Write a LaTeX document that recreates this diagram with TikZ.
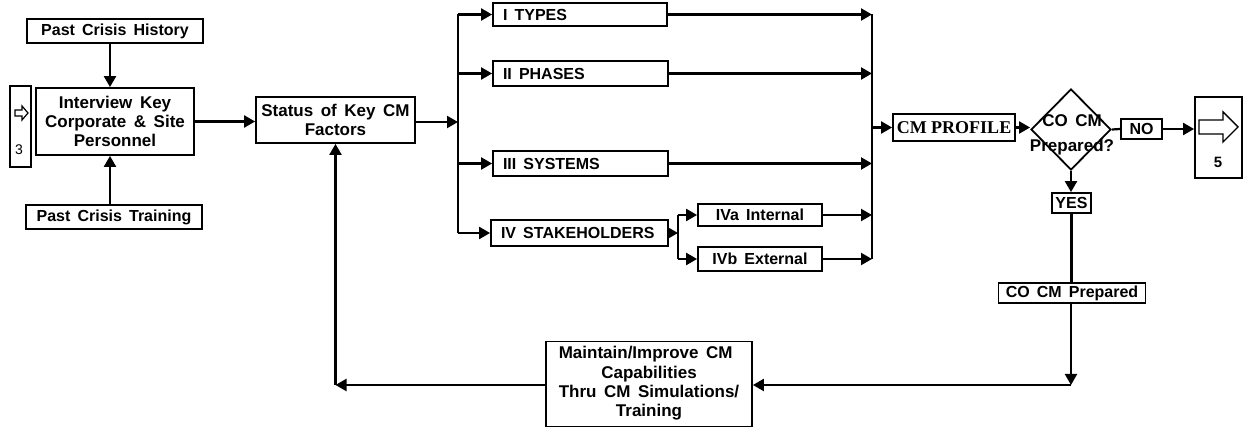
\documentclass[tikz,border=0pt]{standalone}
\usepackage{fontspec}
\setmainfont[WordSpace=1.6]{Liberation Sans}
\newfontfamily\serifbf{Liberation Serif}
\usetikzlibrary{shapes.geometric,arrows.meta}
\begin{document}
\begin{tikzpicture}[x=0.5pt,y=-0.5pt,
  box/.style={draw,line width=0.9pt,inner sep=0pt,font=\bfseries\fontsize{8}{9.5}\selectfont},
  lbox/.style={box,inner xsep=5pt,anchor=center},
  big/.style={font=\bfseries\fontsize{8.5}{9.7}\selectfont},
  arr/.style={line width=1.1pt,-{Triangle[length=5.5pt,width=6pt]}},
  ln/.style={line width=1.1pt}]
\useasboundingbox (0,0) rectangle (1244,427);

% left column
\node[box,minimum width=88pt,minimum height=12pt] (hist) at (115,31) {Past Crisis History};
\node[box,big,minimum width=79pt,minimum height=33.5pt,align=center] (intv) at (115,121.5) {Interview Key\\Corporate \& Site\\Personnel};
\node[box,minimum width=10.5pt,minimum height=40.5pt] (conn3) at (20.5,126.5) {};
\draw[line width=0.6pt] (15,110) -- (22,110) -- (22,106) -- (28,113) -- (22,120) -- (22,116) -- (15,116) -- cycle;
\node[font=\fontsize{7}{8}\selectfont,inner sep=0pt] (c3num) at (19,150) {3};
\node[box,minimum width=88pt,minimum height=12pt] (train) at (114,217) {Past Crisis Training};
\node[box,big,minimum width=79.5pt,minimum height=23pt,align=center] (status) at (335.5,120) {Status of Key CM\\Factors};

% factors
\node[lbox,minimum height=11.5pt] (types) at (580,14.5) {\makebox[77pt][l]{I TYPES}};
\node[lbox,minimum height=12.5pt] (phases) at (580.5,73.5) {\makebox[77.5pt][l]{II PHASES}};
\node[lbox,minimum height=12.5pt] (systems) at (580.5,163.5) {\makebox[77.5pt][l]{III SYSTEMS}};
\node[lbox,minimum height=13pt] (stake) at (579.5,233) {\makebox[78.5pt][l]{IV STAKEHOLDERS}};
\node[box,minimum width=62pt,minimum height=11pt] (iva) at (760,215) {IVa Internal};
\node[box,minimum width=62pt,minimum height=12pt] (ivb) at (760,259) {IVb External};

% right part
\node[box,minimum width=61pt,minimum height=13.5pt,font=\serifbf\bfseries\fontsize{9}{10}\selectfont] (profile) at (954,127.5) {CM PROFILE};
\node[diamond,draw,line width=0.9pt,minimum width=40pt,minimum height=40.5pt,inner sep=0pt] (dia) at (1071,129.5) {};
\node[font=\bfseries\fontsize{8.5}{12.5}\selectfont,align=center,inner sep=0pt] (diat) at (1072,134.5) {CO CM\\Prepared?};
\node[box,minimum width=20.5pt,minimum height=10pt] (no) at (1141.5,129) {NO};
\node[box,minimum width=23.5pt,minimum height=40.5pt] (c5) at (1218.5,137.5) {};
\draw[line width=0.7pt] (1199,120) -- (1223,120) -- (1223,112) -- (1238,127) -- (1223,142) -- (1223,134) -- (1199,134) -- cycle;
\node[font=\bfseries\fontsize{7.5}{8}\selectfont,inner sep=0pt] (c5num) at (1218,162) {5};
\node[box,minimum width=19.5pt,minimum height=10pt] (yes) at (1071.5,203) {YES};
\node[box,minimum width=73.5pt,minimum height=10pt] (prep) at (1072,293) {CO CM Prepared};
\node[box,big,minimum width=103pt,minimum height=42.5pt] (maint) at (649,384) {\begin{tabular}{@{}l@{}}Maintain/Improve CM\\\multicolumn{1}{@{}c@{}}{Capabilities}\\Thru CM Simulations/\\\multicolumn{1}{@{}c@{}}{Training}\end{tabular}};

% coordinates
\coordinate (bL1) at (458,14.5);
\coordinate (bL2) at (458,233);
\coordinate (sp1) at (678,215);
\coordinate (sp2) at (678,259);
\coordinate (bR1) at (872,14.5);
\coordinate (bR2) at (872,259);
\coordinate (k1) at (1071,385);
\coordinate (k2) at (335.5,385);

% connectors
\draw[arr] ([xshift=-2.5pt]hist.south) -- ([xshift=-2.5pt]intv.north);
\draw[arr] ([xshift=-2pt]train.north) -- ([xshift=-2.5pt]intv.south);
\draw[arr] (intv.east) -- (intv.east -| status.west);
\draw[arr] ([yshift=-1pt]status.east) -- ([yshift=-1pt]status.east -| bL1);
\draw[ln] (bL1) -- (bL2);
\draw[arr] (bL1) -- (types.west);
\draw[arr] (bL1 |- phases.west) -- (phases.west);
\draw[arr] (bL1 |- systems.west) -- (systems.west);
\draw[arr] (bL2) -- (stake.west);
\draw[arr] (stake.east) -- (stake.east -| sp1);
\draw[ln] (sp1) -- (sp2);
\draw[arr] (sp1) -- (iva.west);
\draw[arr] (sp2) -- (ivb.west);
\draw[ln] (bR1) -- (bR2);
\draw[arr] (types.east) -- (types.east -| bR1);
\draw[arr] (phases.east) -- (phases.east -| bR1);
\draw[arr] (systems.east) -- (systems.east -| bR1);
\draw[arr] (iva.east) -- (iva.east -| bR1);
\draw[arr] (ivb.east) -- (ivb.east -| bR1);
\draw[arr] (bR1 |- profile.west) -- (profile.west);
\draw[arr] (profile.east) -- (profile.east -| dia.west);
\draw[ln] (dia.east) -- (no.west);
\draw[arr] (no.east) -- (no.east -| c5.west);
\draw[arr] (dia.south) -- (dia.south |- yes.north);
\draw[ln] (yes.south) -- (yes.south |- prep.north);
\draw[arr] (prep.south -| k1) -- (k1);
\draw[arr] (k1) -- (k1 -| maint.east);
\draw[arr] (k1 -| maint.west) -- (k2);
\draw[arr] (k2) -- (k2 |- status.south);
\end{tikzpicture}
\end{document}
